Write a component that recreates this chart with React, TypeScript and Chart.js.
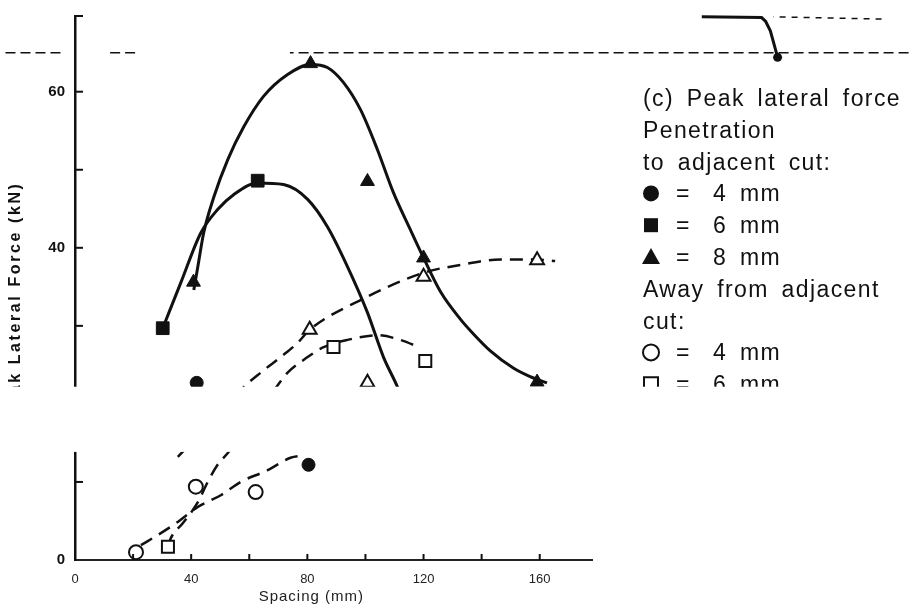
import React, { useEffect, useRef } from 'react';
import { Chart, registerables } from 'chart.js';

Chart.register(...registerables);

// ---- axes ----
const X_MIN = 0;
const X_MAX = 178;
const Y_MIN = 0;
const Y_MAX = 69.7;
const xTickLabels = [0, 40, 80, 120, 160];
const yTickLabels = [0, 40, 60];
const xTickMarks = [20, 40, 60, 80, 100, 120, 140, 160];
const yTickMarks = [10, 20, 30, 40, 50, 60, 69.7];
const gapRange = [13.85, 22.2]; // force band lost in the scanned figure
const xTitle = 'Spacing (mm)';
const yTitle = 'Peak Lateral Force (kN)';

// ---- legend text ----
const legendTitle = ['(c) Peak lateral force', 'Penetration', 'to adjacent cut:'];
const legendPen = ['4 mm', '6 mm', '8 mm'];
const legendAwayTitle = ['Away from adjacent', 'cut:'];
const legendAway = ['4 mm', '6 mm'];

// ---- measured points: penetration to adjacent cut ----
const pen4Spacing = [41.9, 80.4];
const pen4Force = [22.7, 12.2];
const pen6Spacing = [30.2, 62.9];
const pen6Force = [29.7, 48.6];
const pen8Spacing = [40.8, 81.1, 100.7, 120.0, 159.1];
const pen8Force = [35.6, 63.6, 48.5, 38.7, 22.8];

// ---- measured points: away from adjacent cut ----
const away4Spacing = [21.0, 41.6, 62.2];
const away4Force = [1.0, 9.4, 8.7];
const away6Spacing = [32.0, 89.0, 120.6];
const away6Force = [1.7, 27.3, 25.5];
const away8Spacing = [80.8, 100.7, 120.0, 159.1];
const away8Force = [29.5, 22.7, 36.3, 38.4];

// ---- fitted curves as drawn ----
const pen6CurveX = [30.2, 36.4, 43.3, 49.1, 54.6, 62.9, 71.8, 80.1, 86.9, 93.8, 100.7, 106.2, 111.0, 113.4];
const pen6CurveY = [29.7, 35.5, 41.9, 44.9, 46.8, 48.3, 48.1, 46.2, 42.7, 37.6, 31.7, 26.0, 22.2, 19.9];
const pen8CurveX = [40.9, 42.3, 44.3, 47.8, 52.6, 58.1, 64.9, 73.2, 81.1, 86.9, 92.4, 98.3, 104.1, 109.6, 115.5, 119.9, 125.8, 132.6, 137.1, 143.0, 150.9, 156.7, 162.5];
const pen8CurveY = [34.6, 37.6, 41.9, 46.5, 51.3, 55.5, 59.4, 62.2, 63.5, 63.1, 61.2, 57.7, 52.6, 47.1, 42.3, 38.8, 34.4, 30.9, 29.0, 26.8, 24.6, 23.5, 22.7];
const away4CurveX = [22.7, 28.5, 34.7, 42.3, 50.2, 57.0, 66.3, 74.2, 79.0];
const away4CurveY = [1.9, 3.2, 4.7, 6.8, 8.3, 10.0, 11.5, 13.1, 13.4];
const away6CurveX = [32.0, 33.0, 37.1, 42.3, 45.7, 49.1, 52.6, 69.8, 73.2, 80.1, 85.2, 93.8, 104.1, 112.0, 118.9];
const away6CurveY = [1.7, 2.8, 4.7, 7.4, 10.0, 12.2, 13.7, 22.4, 24.0, 26.0, 27.2, 28.2, 28.8, 28.2, 27.2];
const away8CurveX = [35.4, 58.8, 63.9, 70.8, 76.6, 80.8, 98.3, 120.0, 132.6, 146.4, 159.1, 165.3];
const away8CurveY = [13.2, 22.4, 24.0, 26.0, 27.8, 29.5, 33.3, 36.8, 37.8, 38.5, 38.5, 38.3];

// ---- stray lines from the scanned page ----
const scanLineX = [-25, -5, 0, 11.4, 20.7, 30, 74, 287];
const scanLineY = [65.0, 65.0, null, 65.0, 65.0, null, 65.0, 65.0];
const scanHookX = [215.8, 236.4, 237.8, 239.4, 240.6, 241.9];
const scanHookY = [69.6, 69.5, 69.0, 67.8, 66.2, 64.4];
const scanDashX = [240.4, 277.7];
const scanDashY = [69.6, 69.3];

const zip = (xs: number[], ys: (number | null)[]) => xs.map((x, i) => ({ x, y: ys[i] }));

const INK = '#111';
const FONT = '"Liberation Sans", Arial, Helvetica, sans-serif';

const curve = (xs: number[], ys: (number | null)[], dashed: boolean, width: number) => ({
  type: 'line' as const,
  data: zip(xs, ys),
  borderColor: INK,
  borderWidth: width,
  borderDash: dashed ? [13, 8] : [],
  pointRadius: 0,
  fill: false,
  cubicInterpolationMode: 'monotone' as const,
  order: 2,
});

// stray page marks lie outside the x range: list them unsorted so every point is kept
const strayLine = (xs: number[], ys: (number | null)[], dash: number[], width: number) => ({
  ...curve(xs, ys, false, width),
  data: zip(xs, ys).reverse(),
  borderDash: dash,
  clip: false,
  cubicInterpolationMode: 'default' as const,
  tension: 0,
});

const markers = (xs: number[], ys: number[], style: string, radius: number, filled: boolean) => ({
  type: 'scatter' as const,
  data: zip(xs, ys),
  pointStyle: style,
  pointRadius: radius,
  pointBackgroundColor: filled ? INK : '#ffffff',
  pointBorderColor: INK,
  pointBorderWidth: filled ? 1 : 2,
  showLine: false,
  order: 1,
});

const overlayPlugin = {
  id: 'overlay',
  beforeDraw(chart: any) {
    const { ctx } = chart;
    ctx.save();
    ctx.fillStyle = '#ffffff';
    ctx.fillRect(0, 0, chart.width, chart.height);
    ctx.restore();
  },
  afterDraw(chart: any) {
    const { ctx, chartArea } = chart;
    const xs = chart.scales.x;
    const ys = chart.scales.y;
    ctx.save();

    // blot at the end of the stray hook (outside the plot area)
    ctx.fillStyle = INK;
    ctx.beginPath();
    ctx.arc(
      xs.getPixelForValue(scanHookX[scanHookX.length - 1]),
      ys.getPixelForValue(scanHookY[scanHookY.length - 1]),
      4.5, 0, Math.PI * 2
    );
    ctx.fill();

    // inward tick marks
    ctx.strokeStyle = INK;
    ctx.lineWidth = 2;
    yTickMarks.forEach((v) => {
      const py = ys.getPixelForValue(v);
      ctx.beginPath();
      ctx.moveTo(chartArea.left, py);
      ctx.lineTo(chartArea.left + 8, py);
      ctx.stroke();
    });
    xTickMarks.forEach((v) => {
      const px = xs.getPixelForValue(v);
      ctx.beginPath();
      ctx.moveTo(px, chartArea.bottom);
      ctx.lineTo(px, chartArea.bottom - 6);
      ctx.stroke();
    });

    // y title (rotated)
    ctx.save();
    ctx.fillStyle = INK;
    ctx.font = `bold 16px ${FONT}`;
    ctx.letterSpacing = '2.6px';
    ctx.translate(chartArea.left - 59, ys.getPixelForValue(48.5));
    ctx.rotate(-Math.PI / 2);
    ctx.textAlign = 'right';
    ctx.textBaseline = 'middle';
    ctx.fillText(yTitle, 0, 0);
    ctx.restore();

    // x title
    ctx.save();
    ctx.fillStyle = '#222';
    ctx.font = `15px ${FONT}`;
    ctx.letterSpacing = '1px';
    ctx.textAlign = 'center';
    ctx.textBaseline = 'middle';
    ctx.fillText(xTitle, xs.getPixelForValue(80) + 4, chartArea.bottom + 37);
    ctx.restore();

    // legend block
    const lx = chartArea.right + 51;
    const base0 = 106;
    const step = 31.8;
    ctx.save();
    ctx.fillStyle = INK;
    ctx.strokeStyle = INK;
    ctx.font = `23px ${FONT}`;
    ctx.letterSpacing = '1.4px';
    ctx.wordSpacing = '5px';
    ctx.textAlign = 'left';
    ctx.textBaseline = 'alphabetic';
    let row = 0;
    const text = (s: string) => {
      ctx.fillText(s, lx, base0 + row * step);
      row++;
    };
    const symRow = (kind: string, label: string) => {
      const by = base0 + row * step;
      const cx = lx + 8;
      const cy = by - 8;
      ctx.lineWidth = 2;
      ctx.beginPath();
      if (kind === 'fcircle' || kind === 'ocircle') {
        ctx.arc(cx, cy, 8, 0, Math.PI * 2);
      } else if (kind === 'fsquare' || kind === 'osquare') {
        ctx.rect(cx - 7, cy - 7, 14, 14);
      } else {
        ctx.moveTo(cx, cy - 9);
        ctx.lineTo(cx + 9, cy + 7);
        ctx.lineTo(cx - 9, cy + 7);
        ctx.closePath();
      }
      if (kind[0] === 'f') ctx.fill();
      else ctx.stroke();
      ctx.fillText('=', lx + 33, by);
      ctx.fillText(label, lx + 70, by);
      row++;
    };
    legendTitle.forEach(text);
    symRow('fcircle', legendPen[0]);
    symRow('fsquare', legendPen[1]);
    symRow('ftri', legendPen[2]);
    legendAwayTitle.forEach(text);
    symRow('ocircle', legendAway[0]);
    symRow('osquare', legendAway[1]);
    ctx.restore();

    // blank band of the scanned page
    const top = ys.getPixelForValue(gapRange[1]);
    const bot = ys.getPixelForValue(gapRange[0]);
    ctx.fillStyle = '#ffffff';
    ctx.fillRect(0, top, chart.width, bot - top);

    ctx.restore();
  },
};

export default function App() {
  const canvasRef = useRef<HTMLCanvasElement | null>(null);

  useEffect(() => {
    if (!canvasRef.current) return;
    const chart = new Chart(canvasRef.current, {
      type: 'scatter',
      data: {
        datasets: [
          markers(pen4Spacing, pen4Force, 'circle', 6.5, true),
          markers(pen6Spacing, pen6Force, 'rect', 9, true),
          markers(pen8Spacing, pen8Force, 'triangle', 8, true),
          markers(away4Spacing, away4Force, 'circle', 7, false),
          markers(away6Spacing, away6Force, 'rect', 8.5, false),
          markers(away8Spacing, away8Force, 'triangle', 8, false),
          curve(pen6CurveX, pen6CurveY, false, 3),
          curve(pen8CurveX, pen8CurveY, false, 3),
          curve(away4CurveX, away4CurveY, true, 2.5),
          curve(away6CurveX, away6CurveY, true, 2.5),
          curve(away8CurveX, away8CurveY, true, 2.5),
          strayLine(scanLineX, scanLineY, [10, 5], 1.5),
          strayLine(scanHookX, scanHookY, [], 3),
          strayLine(scanDashX, scanDashY, [6, 6], 1.5),
        ] as any,
      },
      options: {
        animation: false,
        responsive: true,
        maintainAspectRatio: false,
        devicePixelRatio: 1,
        layout: { padding: { left: 0, top: 16, right: 317, bottom: 0 } },
        plugins: { legend: { display: false }, tooltip: { enabled: false }, title: { display: false } },
        scales: {
          x: {
            type: 'linear',
            position: 'bottom',
            min: X_MIN,
            max: X_MAX,
            grid: { display: false },
            border: { display: true, color: '#222', width: 2 },
            afterFit: (s: any) => { s.height = 50; },
            ticks: {
              stepSize: 40,
              includeBounds: false,
              padding: 4,
              color: '#222',
              font: { family: FONT, size: 13 },
              maxRotation: 0,
              callback: (v: any) => (xTickLabels.includes(Number(v)) ? String(v) : ''),
            },
          },
          y: {
            type: 'linear',
            position: 'left',
            min: Y_MIN,
            max: Y_MAX,
            grid: { display: false },
            border: { display: true, color: INK, width: 2.5 },
            afterFit: (s: any) => { s.width = 75; },
            ticks: {
              stepSize: 10,
              includeBounds: false,
              padding: 2,
              color: INK,
              font: { family: FONT, size: 15, weight: 'bold' },
              callback: (v: any) => (yTickLabels.includes(Number(v)) ? String(v) : ''),
            },
          },
        },
      } as any,
      plugins: [overlayPlugin],
    });
    return () => chart.destroy();
  }, []);

  return (
    <div style={{ position: 'fixed', left: 0, top: 0, width: 909, height: 610, background: '#fff' }}>
      <canvas ref={canvasRef} />
    </div>
  );
}
